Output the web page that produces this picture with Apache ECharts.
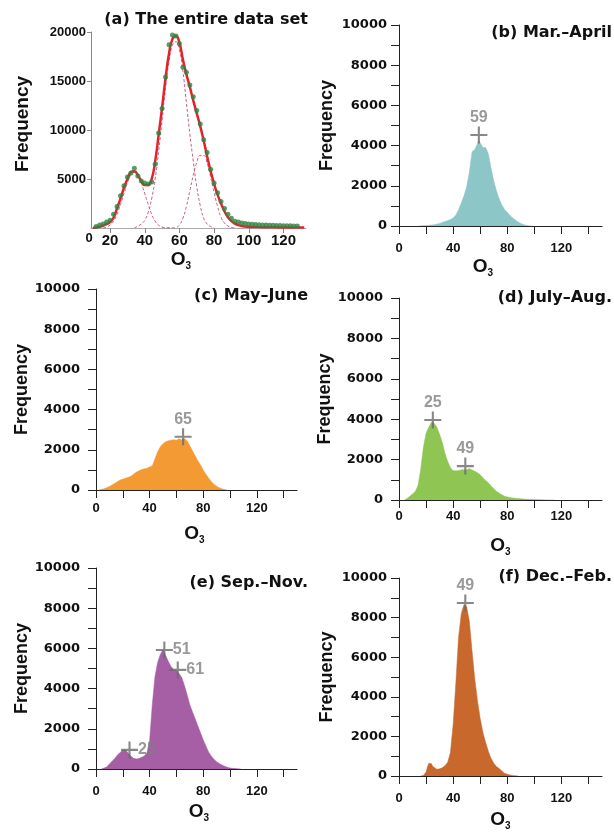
<!DOCTYPE html>
<html><head><meta charset="utf-8">
<script src="https://cdn.jsdelivr.net/npm/echarts@6/dist/echarts.min.js"></script>
<style>html,body{margin:0;padding:0;background:#fff}#c{width:614px;height:832px}</style>
</head><body><div id="c"></div><script>
// ---------- Panel (a): entire data set ----------
const aX   = [10,12,14,16,18,20,22,24,26,28,30,32,34,36,38,40,42,44,46,48,50,52,54,56,58,60,62,64,66,68,70,72,74,76,78,80,82,84,86,88,90,92,94,96,98,100,102,104,106,108,110,112,114,116,118,120,122,124,126,128,130,132];
const aObs = [null,150,300,400,600,800,1400,2200,3300,4300,5200,5600,6100,5300,4800,4600,4500,4700,6500,9700,12200,15400,18700,19700,19600,18800,16400,15900,14600,13400,12000,10600,9000,7700,6000,4600,3600,2700,2000,1400,1000,700,600,500,450,400,380,350,330,300,300,280,270,260,250,240,230,220,210,200,null,null];
const aFit = [0,50,120,250,400,600,1050,2000,3000,4100,5000,5700,5800,5400,4800,4400,4400,5000,6800,9500,12300,15300,17800,19300,19600,18900,17200,15700,14400,13000,11700,10400,8900,7300,5800,4500,3400,2500,1700,1100,700,450,300,200,150,120,110,100,90,85,80,75,70,65,60,55,50,50,45,45,40,40];
const aComp1 = [[16,0],[18,100],[20,300],[22,700],[24,1400],[26,2400],[28,3500],[30,4600],[32,5400],[34,5700],[36,5400],[38,4600],[40,3500],[42,2400],[44,1400],[46,700],[48,300],[50,100],[52,0],[56,0]];
const aComp2 = [[34,0],[36,200],[38,400],[40,800],[42,1600],[44,3000],[46,5000],[48,7800],[50,11000],[52,14300],[54,17000],[56,18700],[58,19000],[60,18200],[62,16000],[64,12800],[66,9600],[68,6800],[70,4200],[72,2300],[74,1000],[76,400],[78,150],[80,0]];
const aComp3 = [[50,0],[56,0],[58,50],[60,300],[62,1000],[64,2200],[66,3800],[68,5400],[70,6700],[72,7400],[74,7400],[76,6600],[78,5200],[80,3600],[82,2200],[84,1100],[86,500],[88,200],[90,50],[92,0]];
const aXTicks = [20,40,60,80,100,120];
const aYTicks = [5000,10000,15000,20000];

// ---------- Seasonal panels (b)-(f) ----------
const bData = [[14,0],[20,20],[26,60],[30,130],[34,220],[38,320],[40,400],[42,550],[44,800],[46,1150],[48,1500],[50,1950],[52,2700],[54,3700],[56,3800],[58,4100],[59,4250],[60,4200],[62,3900],[64,3900],[66,3600],[68,2900],[70,2250],[72,1750],[74,1350],[76,1050],[78,820],[80,680],[82,520],[84,400],[86,300],[88,200],[90,130],[92,70],[94,30],[96,10],[98,0]];
const cData = [[2,0],[6,60],[10,170],[14,330],[18,500],[22,580],[26,680],[30,880],[34,1020],[38,1080],[40,1150],[42,1200],[44,1550],[46,1900],[48,2150],[50,2300],[52,2400],[54,2450],[56,2480],[58,2500],[60,2480],[62,2550],[64,2500],[66,2550],[68,2450],[70,2200],[72,1950],[74,1700],[76,1450],[78,1250],[80,1000],[82,780],[84,600],[86,420],[88,290],[90,190],[92,110],[94,60],[96,20],[98,0]];
const dData = [[4,0],[6,80],[8,180],[10,300],[12,420],[14,700],[16,1500],[18,2600],[20,3300],[22,3600],[24,3850],[26,3800],[28,3600],[30,3250],[32,2850],[34,2300],[36,1900],[38,1600],[40,1450],[42,1450],[44,1450],[46,1500],[48,1500],[50,1500],[52,1550],[54,1480],[56,1420],[58,1350],[60,1250],[62,1100],[64,960],[66,850],[68,700],[70,560],[72,430],[74,340],[76,260],[78,190],[80,150],[84,100],[88,70],[92,50],[96,35],[100,25],[105,15],[110,5],[115,0]];
const eData = [[4,0],[8,100],[10,250],[12,380],[14,520],[16,700],[18,820],[20,930],[22,950],[24,800],[26,650],[28,530],[30,500],[32,520],[34,580],[36,650],[38,800],[40,1400],[42,3200],[44,4600],[46,5300],[48,5700],[50,5950],[52,5650],[54,5350],[56,5100],[58,4950],[60,4900],[62,4750],[64,4550],[66,4150],[68,3700],[70,3200],[72,2850],[74,2500],[76,2150],[78,1800],[80,1450],[82,1150],[84,850],[86,650],[88,480],[90,360],[92,270],[94,200],[96,140],[98,90],[100,50],[104,20],[108,0]];
const fData = [[16,0],[18,30],[20,200],[21,450],[22,650],[23,700],[24,620],[25,480],[26,380],[28,340],[30,360],[32,420],[34,520],[36,700],[38,1200],[40,2600],[42,4700],[44,7000],[46,8200],[48,8650],[49,8700],[50,8550],[52,7800],[54,6300],[56,4900],[58,3800],[60,2900],[62,2200],[64,1700],[66,1250],[68,900],[70,650],[72,480],[74,380],[76,250],[78,140],[80,90],[82,50],[84,30],[86,10],[88,0]];

const bPeakX = [59],        bPeakY = [4530];
const cPeakX = [65],        cPeakY = [2650];
const dPeakX = [25, 49],    dPeakY = [3960, 1680];
const ePeakX = [51, 61, 25], ePeakY = [5920, 4930, 950];
const fPeakX = [49],        fPeakY = [8740];

const xTickVals  = [0,20,40,60,80,100,120,140];
const xLabelVals = [0,40,80,120];
const yTickVals  = [0,1000,2000,3000,4000,5000,6000,7000,8000,9000,10000];
const yLabelVals = [0,2000,4000,6000,8000,10000];

const titles = ['(a) The entire data set','(b) Mar.–April','(c) May–June','(d) July–Aug.','(e) Sep.–Nov.','(f) Dec.–Feb.'];
const colors = ['#8cc6c7','#f39a33','#8ec553','#a65fa4','#c8682d'];

// ---------- layout ----------
const SANS = 'Liberation Sans, Arial, sans-serif';
const WIDE = 'DejaVu Sans, sans-serif';
const plain = v => String(v);
const grids = [
  {left:91,  top:32,  width:215, height:196},
  {left:399, top:25,  width:203, height:201},
  {left:96,  top:289, width:201, height:201},
  {left:399, top:298, width:203, height:202},
  {left:96,  top:568, width:201, height:201},
  {left:399, top:578, width:203, height:201}
];
const xLabelMargin = [0, 16, 12, 10, 16, 16];
const yLabelMargin = [0, 12, 16, 16, 16, 12];
const xNameGap = [22, 31, 34, 36, 33, 34];
const xNamePad = [[0,35,0,0],[0,35,0,0],[0,4,0,0],[0,0,0,0],[0,0,0,5],[0,0,0,0]];
const titlePos = [[308,20],[612,33],[308,296],[612,298],[308,583],[612,577]];

const oRich = {o:{fontSize:19, fontWeight:'bold', fontFamily:SANS, color:'#111', lineHeight:20},
               s:{fontSize:10, fontWeight:'bold', fontFamily:SANS, color:'#111', lineHeight:20, padding:[12,0,0,0]}};

const xAxes = [], yAxes = [], series = [];

// panel (a) axes
xAxes.push({gridIndex:0, type:'value', min:9, max:133,
  axisLine:{show:true, onZero:false, lineStyle:{color:'#aaaaaa', width:1}},
  axisTick:{show:true, length:5, customValues:aXTicks, lineStyle:{color:'#888'}},
  axisLabel:{customValues:aXTicks, formatter:plain, margin:5, fontSize:15, fontWeight:'bold', fontFamily:SANS, color:'#111'},
  splitLine:{show:false},
  name:'{o|O}{s|3}', nameLocation:'middle', nameGap:xNameGap[0], nameTextStyle:{rich:oRich, padding:xNamePad[0]}});
yAxes.push({gridIndex:0, type:'value', min:0, max:20000,
  axisLine:{show:true, lineStyle:{color:'#888', width:1}},
  axisTick:{show:true, length:4, customValues:aYTicks, lineStyle:{color:'#888'}},
  axisLabel:{customValues:aYTicks, formatter:plain, margin:5, fontSize:13, fontWeight:'bold', fontFamily:SANS, color:'#111'},
  splitLine:{show:false},
  name:'Frequency', nameLocation:'middle', nameGap:59, nameRotate:90,
  nameTextStyle:{fontSize:19, fontWeight:'bold', fontFamily:SANS, color:'#111', padding:[0,0,0,12]}});

const compStyle = {color:'#c4607e', width:1, type:[3,2]};
[aComp1, aComp2, aComp3].forEach(c => series.push({type:'line', xAxisIndex:0, yAxisIndex:0, data:c, smooth:true, showSymbol:false, lineStyle:compStyle, z:2, silent:true}));
series.push({type:'line', xAxisIndex:0, yAxisIndex:0, smooth:true, showSymbol:false, z:3,
  data:aX.map((x,i)=>[x,aFit[i]]), lineStyle:{color:'#e3232c', width:2.5}});
series.push({type:'scatter', xAxisIndex:0, yAxisIndex:0, z:4, symbolSize:5,
  data:aX.map((x,i)=>[x,aObs[i]]).filter(p=>p[1]!==null), itemStyle:{color:'#2e8540'}});

// panels (b)-(f)
const hist = [bData, cData, dData, eData, fData];
const peaksX = [bPeakX, cPeakX, dPeakX, ePeakX, fPeakX];
const peaksY = [bPeakY, cPeakY, dPeakY, ePeakY, fPeakY];
const PLUS = 'path://M7,0H9V7H16V9H9V16H7V9H0V7H7Z';
for (let k = 0; k < 5; k++) {
  const i = k + 1;
  xAxes.push({gridIndex:i, type:'value', min:0, max:150,
    axisLine:{show:true, onZero:false, lineStyle:{color:'#222', width:1}},
    axisTick:{show:true, length:8, customValues:xTickVals, lineStyle:{color:'#222'}},
    axisLabel:{customValues:xLabelVals, formatter:plain, margin:xLabelMargin[i], fontSize:13, fontWeight:'bold', fontFamily:SANS, color:'#111'},
    splitLine:{show:false},
    name:'{o|O}{s|3}', nameLocation:'middle', nameGap:xNameGap[i], nameTextStyle:{rich:oRich, padding:xNamePad[i]}});
  yAxes.push({gridIndex:i, type:'value', min:0, max:10000,
    axisLine:{show:true, lineStyle:{color:'#222', width:1}},
    axisTick:{show:true, length:8, customValues:yTickVals, lineStyle:{color:'#222'}},
    axisLabel:{customValues:yLabelVals, formatter:plain, margin:yLabelMargin[i], fontSize:13, fontWeight:'bold', fontFamily:WIDE, color:'#111'},
    splitLine:{show:false},
    name:'Frequency', nameLocation:'middle', nameGap:63, nameRotate:90,
    nameTextStyle:{fontSize:18, fontWeight:'bold', fontFamily:SANS, color:'#111'}});
  series.push({type:'line', xAxisIndex:i, yAxisIndex:i, data:hist[k], showSymbol:false, smooth:false, z:2,
    lineStyle:{color:colors[k], width:0.5}, areaStyle:{color:colors[k], opacity:1}});
  series.push({type:'scatter', xAxisIndex:i, yAxisIndex:i, z:5, symbol:PLUS, symbolSize:17,
    data:peaksX[k].map((x,j)=>[x,peaksY[k][j]]), itemStyle:{color:'#6a6a6a'},
    label:{show:true, position: k===3 ? 'right' : 'top', distance: k===3 ? 0 : 1,
      formatter:p=>String(p.value[0]), fontSize:16, fontWeight:'bold', fontFamily:SANS, color:'#808080'}});
}

const graphic = titles.map((t,i)=>({type:'text', x:titlePos[i][0], y:titlePos[i][1],
  style:{text:t, align:'right', verticalAlign:'middle', fontSize:16, fontWeight:'bold', fontFamily:WIDE, fill:'#111'}}));
graphic.push({type:'text', x:89, y:238, style:{text:'0', align:'center', verticalAlign:'middle', fontSize:13, fontWeight:'bold', fontFamily:SANS, fill:'#111'}});

const chart = echarts.init(document.getElementById('c'), null, {renderer:'canvas'});
chart.setOption({animation:false, backgroundColor:'#fff', grid:grids, xAxis:xAxes, yAxis:yAxes, series, graphic});
</script></body></html>
